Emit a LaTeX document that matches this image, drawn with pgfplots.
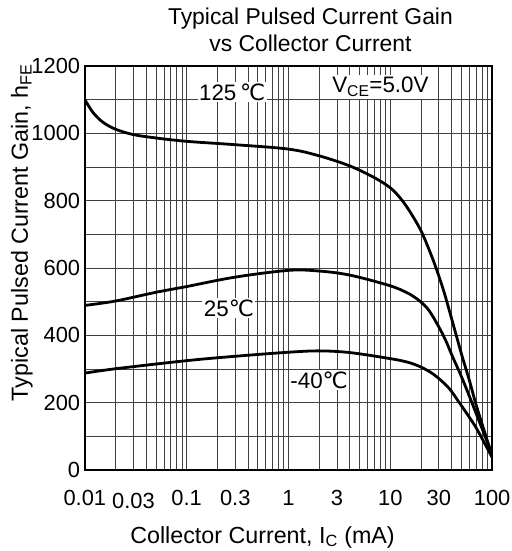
\documentclass[border=0pt]{standalone}
\usepackage{pgfplots}
\pgfplotsset{compat=1.18}
\usetikzlibrary{calc}
\usepackage{fontspec}
\setmainfont{Liberation Sans}
\newfontfamily\dejavu{DejaVu Sans}
\newcommand{\degC}{{\dejavu ℃}}
\begin{document}
\begin{tikzpicture}
\begin{axis}[
  name=ax,
  scale only axis,
  width=408bp, height=405bp,
  xmode=log,
  xmin=0.01, xmax=100,
  ymin=0, ymax=1200,
  ytick={0,200,400,600,800,1000,1200},
  minor ytick={100,300,500,700,900,1100},
  xtick={0.01,0.03,0.1,0.3,1,3,10,30,100},
  xticklabels={0.01,\raisebox{-3bp}{0.03},0.1,0.3,1,3,10,30,100},
  minor xtick={0.02,0.04,0.05,0.06,0.07,0.08,0.09,0.2,0.4,0.5,0.6,0.7,0.8,0.9,2,4,5,6,7,8,9,20,40,50,60,70,80,90},
  grid=both,
  major grid style={line width=0.8bp, color=black!75},
  minor grid style={line width=0.8bp, color=black!75},
  axis line style={line width=1.5bp},
  major tick length=0pt, minor tick length=0pt,
  tick label style={font=\fontsize{22}{24}\selectfont},
  /pgf/number format/assume math mode=true,
  /pgf/number format/1000 sep={},
  xticklabel style={anchor=base, yshift=-35bp, inner sep=0pt},
  yticklabel style={anchor=east, inner sep=0pt, xshift=-4.5bp},
  clip=true,
]
\addplot[line width=2.8bp, smooth, tension=0.55] coordinates {
(0.01,1100)(0.012,1062)(0.015,1033)(0.02,1012)(0.03,996)(0.05,986)(0.1,976)(0.3,966)(1,953)(2,933)(4,903)(7,868)(10,838)(12.5,808)(15.4,770)(20,711)(24,655)(28,602)(33,538)(38,474)(44,405)(51,336)(60,265)(69,198)(82,125)(100,42)};
\addplot[line width=2.8bp, smooth, tension=0.55] coordinates {
(0.01,489)(0.02,502)(0.05,528)(0.1,545)(0.3,573)(1,593)(2,591)(4,579)(9.8,548)(14.3,528)(17,515)(20,499)(24,474)(30,425)(35,385)(41,336)(48,290)(55,247)(64,197)(74,148)(86,98)(100,45)};
\addplot[line width=2.8bp, smooth, tension=0.55] coordinates {
(0.01,288)(0.02,301)(0.1,325)(0.3,338)(1,350)(2,354)(4,349)(10,331)(15,320)(20,306)(25,290)(30,272)(38,242)(46,207)(57,166)(69,128)(83,84)(100,38)};
\node[fill=white, inner sep=1.5bp, font=\fontsize{22.5}{24}\selectfont] at (axis cs:0.28,1122) {125\,\degC};
\node[fill=white, inner sep=2bp, font=\fontsize{22.5}{24}\selectfont] at (axis cs:8,1138) {V\textsubscript{CE}=5.0V};
\node[fill=white, inner sep=1.5bp, font=\fontsize{22.5}{24}\selectfont] at (axis cs:0.26,480) {25\degC};
\node[fill=white, inner sep=1.5bp, font=\fontsize{22.5}{24}\selectfont] at (axis cs:2.0,268) {-40\degC};
\end{axis}
% titles and axis labels
\node[anchor=base, font=\fontsize{23}{27}\selectfont] at ($(ax.north)+(22bp,41bp)$) {Typical Pulsed Current Gain};
\node[anchor=base, font=\fontsize{23}{27}\selectfont] at ($(ax.north)+(22bp,14bp)$) {vs Collector Current};
\node[anchor=base, font=\fontsize{23.4}{26}\selectfont] at ($(ax.south)+(-26bp,-73bp)$) {Collector Current, I\textsubscript{C} (mA)};
\node[anchor=base, rotate=90, font=\fontsize{23.4}{26}\selectfont] at ($(ax.south west)+(-57bp,238bp)$) {Typical Pulsed Current Gain, h\textsubscript{FE}};
\pgfresetboundingbox
\path[use as bounding box] ($(ax.south west)+(-85bp,-81bp)$) rectangle ($(ax.north east)+(19bp,66bp)$);
\end{tikzpicture}
\end{document}
